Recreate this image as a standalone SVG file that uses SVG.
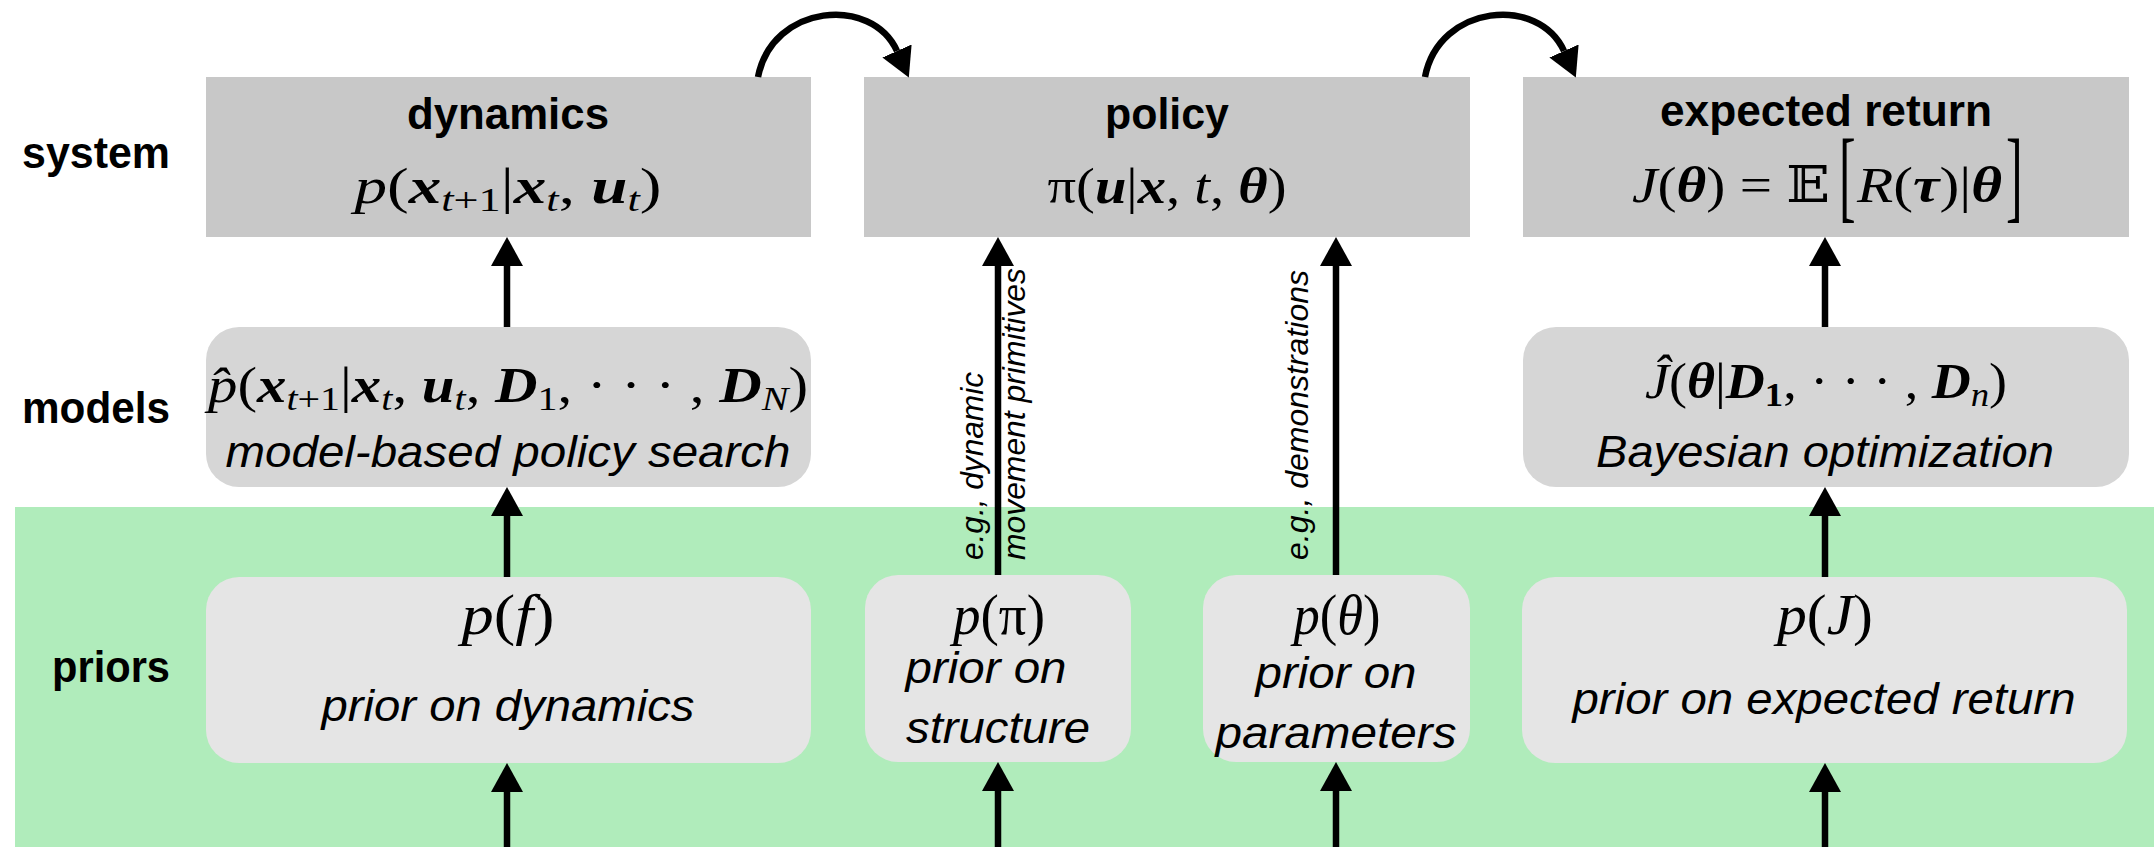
<svg xmlns="http://www.w3.org/2000/svg" width="2154" height="847" viewBox="0 0 2154 847">
<style>
.lab{font-family:"Liberation Sans",Arial,sans-serif;font-weight:bold;font-size:45px;fill:#000}
.it{font-family:"Liberation Sans",Arial,sans-serif;font-style:italic;font-size:45px;fill:#000}
.rot{font-family:"Liberation Sans",Arial,sans-serif;font-style:italic;font-size:32px;fill:#000}
.m{font-family:"Liberation Serif","Times New Roman",serif;font-size:50px;fill:#000}
.mp{font-family:"Liberation Serif","Times New Roman",serif;font-size:56px;fill:#000}
.i{font-style:italic}
.bi{font-style:italic;font-weight:bold}
.sub{font-size:34px}
.sys{fill:#c8c8c8}
.mod{fill:#d6d6d6}
.pri{fill:#e5e5e5}
.ln{stroke:#000;stroke-width:6.5;fill:none;marker-end:url(#ah)}
</style>
<defs>
<marker id="ah" markerUnits="userSpaceOnUse" markerWidth="29" markerHeight="32" refX="0" refY="16" orient="auto" viewBox="0 0 29 32">
<path d="M0,0 L29,16 L0,32 z" fill="#000"/>
</marker>
</defs>
<rect id="priors-band" x="15" y="507" width="2139" height="340" fill="#b0ecbb"/>
<g id="row-labels">
<text class="lab" x="170" y="168" text-anchor="end" textLength="148" lengthAdjust="spacingAndGlyphs">system</text>
<text class="lab" x="170" y="423" text-anchor="end" textLength="148" lengthAdjust="spacingAndGlyphs">models</text>
<text class="lab" x="170" y="682" text-anchor="end" textLength="118" lengthAdjust="spacingAndGlyphs">priors</text>
</g>
<g id="dynamics">
<rect class="sys" x="206" y="77" width="605" height="160"/>
<text class="lab" x="508" y="129" text-anchor="middle" textLength="202" lengthAdjust="spacingAndGlyphs">dynamics</text>
<text class="m" x="508" y="203" text-anchor="middle" textLength="307" lengthAdjust="spacingAndGlyphs"><tspan class="i">p</tspan>(<tspan class="bi">x</tspan><tspan class="sub" dy="8"><tspan class="i">t</tspan>+1</tspan><tspan dy="-8">|</tspan><tspan class="bi">x</tspan><tspan class="sub i" dy="8">t</tspan><tspan dy="-8">, </tspan><tspan class="bi">u</tspan><tspan class="sub i" dy="8">t</tspan><tspan dy="-8">)</tspan></text>
</g>
<g id="policy">
<rect class="sys" x="864" y="77" width="606" height="160"/>
<text class="lab" x="1167" y="129" text-anchor="middle" textLength="124" lengthAdjust="spacingAndGlyphs">policy</text>
<text class="m" x="1167" y="203" text-anchor="middle" textLength="239" lengthAdjust="spacingAndGlyphs">π(<tspan class="bi">u</tspan>|<tspan class="bi">x</tspan>, <tspan class="i">t</tspan>, <tspan class="bi">θ</tspan>)</text>
</g>
<g id="expected-return">
<rect class="sys" x="1523" y="77" width="606" height="160"/>
<text class="lab" x="1826" y="126" text-anchor="middle" textLength="332" lengthAdjust="spacingAndGlyphs">expected return</text>
<text class="m" x="1632" y="202" textLength="198" lengthAdjust="spacingAndGlyphs"><tspan class="i">J</tspan>(<tspan class="bi">θ</tspan>) = <tspan font-family="DejaVu Serif,DejaVu Sans,serif">𝔼</tspan></text>
<text class="m" transform="translate(1839,209) scale(1,2.05)">[</text>
<text class="m" x="1857" y="202" textLength="145" lengthAdjust="spacingAndGlyphs"><tspan class="i">R</tspan>(<tspan class="bi">τ</tspan>)|<tspan class="bi">θ</tspan></text>
<text class="m" transform="translate(2006,209) scale(1,2.05)">]</text>
</g>
<g id="model-based-policy-search">
<rect class="mod" x="206" y="327" width="605" height="160" rx="33" ry="33"/>
<text class="m" x="508" y="402" text-anchor="middle" textLength="600" lengthAdjust="spacingAndGlyphs"><tspan class="i">p̂</tspan>(<tspan class="bi">x</tspan><tspan class="sub" dy="8"><tspan class="i">t</tspan>+1</tspan><tspan dy="-8">|</tspan><tspan class="bi">x</tspan><tspan class="sub i" dy="8">t</tspan><tspan dy="-8">, </tspan><tspan class="bi">u</tspan><tspan class="sub i" dy="8">t</tspan><tspan dy="-8">, </tspan><tspan class="bi">D</tspan><tspan class="sub" dy="8">1</tspan><tspan dy="-8">, · · · , </tspan><tspan class="bi">D</tspan><tspan class="sub i" dy="8">N</tspan><tspan dy="-8">)</tspan></text>
<text class="it" x="508" y="467" text-anchor="middle" textLength="565" lengthAdjust="spacingAndGlyphs">model-based policy search</text>
</g>
<g id="bayesian-optimization">
<rect class="mod" x="1523" y="327" width="606" height="160" rx="33" ry="33"/>
<text class="m" x="1826" y="398" text-anchor="middle" textLength="362" lengthAdjust="spacingAndGlyphs"><tspan class="i">Ĵ</tspan>(<tspan class="bi">θ</tspan>|<tspan class="bi">D</tspan><tspan class="sub" font-weight="bold" dy="8">1</tspan><tspan dy="-8">, · · · , </tspan><tspan class="bi">D</tspan><tspan class="sub i" dy="8">n</tspan><tspan dy="-8">)</tspan></text>
<text class="it" x="1825" y="467" text-anchor="middle" textLength="458" lengthAdjust="spacingAndGlyphs">Bayesian optimization</text>
</g>
<g id="prior-dynamics">
<rect class="pri" x="206" y="577" width="605" height="186" rx="33" ry="33"/>
<text class="mp" x="508" y="634" text-anchor="middle" textLength="93" lengthAdjust="spacingAndGlyphs"><tspan class="i">p</tspan>(<tspan class="i">f</tspan>)</text>
<text class="it" x="508" y="721" text-anchor="middle" textLength="373" lengthAdjust="spacingAndGlyphs">prior on dynamics</text>
</g>
<g id="prior-structure">
<rect class="pri" x="865" y="575" width="266" height="187" rx="33" ry="33"/>
<text class="mp" x="999" y="634" text-anchor="middle" textLength="92" lengthAdjust="spacingAndGlyphs"><tspan class="i">p</tspan>(π)</text>
<text class="it" x="986" y="683" text-anchor="middle" textLength="161" lengthAdjust="spacingAndGlyphs">prior on</text>
<text class="it" x="998" y="743" text-anchor="middle" textLength="184" lengthAdjust="spacingAndGlyphs">structure</text>
</g>
<g id="prior-parameters">
<rect class="pri" x="1203" y="575" width="267" height="187" rx="33" ry="33"/>
<text class="mp" x="1337" y="634" text-anchor="middle" textLength="87" lengthAdjust="spacingAndGlyphs"><tspan class="i">p</tspan>(<tspan class="i">θ</tspan>)</text>
<text class="it" x="1336" y="688" text-anchor="middle" textLength="161" lengthAdjust="spacingAndGlyphs">prior on</text>
<text class="it" x="1336" y="748" text-anchor="middle" textLength="241" lengthAdjust="spacingAndGlyphs">parameters</text>
</g>
<g id="prior-expected-return">
<rect class="pri" x="1522" y="577" width="605" height="186" rx="33" ry="33"/>
<text class="mp" x="1825" y="634" text-anchor="middle" textLength="96" lengthAdjust="spacingAndGlyphs"><tspan class="i">p</tspan>(<tspan class="i">J</tspan>)</text>
<text class="it" x="1824" y="714" text-anchor="middle" textLength="503" lengthAdjust="spacingAndGlyphs">prior on expected return</text>
</g>
<g id="connectors">
<path class="ln" d="M758,77 C772,4 872,-5 897,51"/>
<path class="ln" d="M1425,77 C1439,4 1539,-5 1564,51"/>
<path class="ln" d="M507,327 V266"/>
<path class="ln" d="M507,577 V516"/>
<path class="ln" d="M507,847 V792"/>
<path class="ln" d="M998,575 V266"/>
<path class="ln" d="M998,847 V791"/>
<path class="ln" d="M1336,575 V266"/>
<path class="ln" d="M1336,847 V791"/>
<path class="ln" d="M1825,327 V266"/>
<path class="ln" d="M1825,577 V516"/>
<path class="ln" d="M1825,847 V792"/>
<text class="rot" transform="translate(983,560) rotate(-90)" textLength="188" lengthAdjust="spacingAndGlyphs">e.g., dynamic</text>
<text class="rot" transform="translate(1025,560) rotate(-90)" textLength="292" lengthAdjust="spacingAndGlyphs">movement primitives</text>
<text class="rot" transform="translate(1308,560) rotate(-90)" textLength="290" lengthAdjust="spacingAndGlyphs">e.g., demonstrations</text>
</g>
</svg>
